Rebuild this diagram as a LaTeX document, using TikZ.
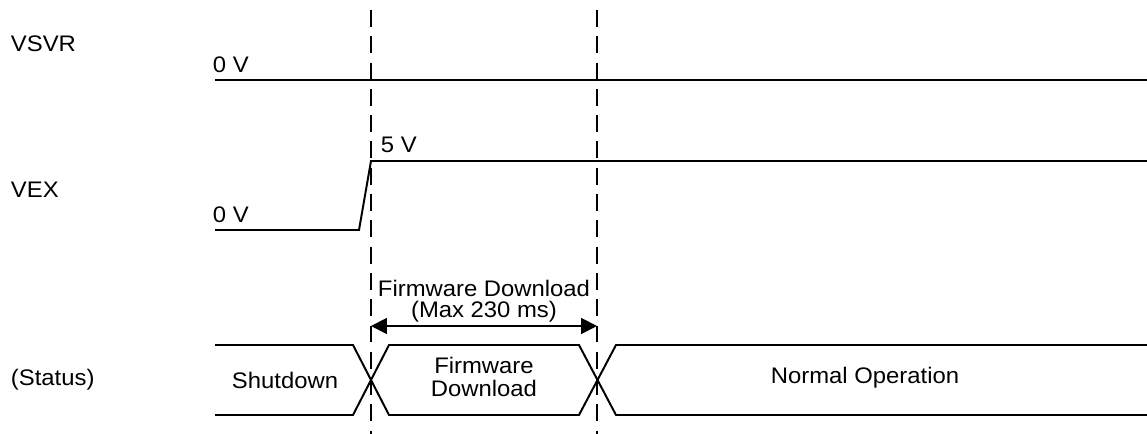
\documentclass[tikz,border=0pt]{standalone}
\usepackage{fontspec}
\setmainfont{Liberation Sans}[FakeStretch=1.06]
\usetikzlibrary{arrows.meta}
\begin{document}
\begin{tikzpicture}[x=0.025cm,y=-0.025cm,line width=1.4pt]
\tikzstyle{every node}=[inner sep=0pt,font=\fontsize{16}{16}\selectfont];
\tikzstyle{guide}=[line width=1.1pt,dash pattern=on 12pt off 6.7pt];
\tikzstyle{sig}=[anchor=west];
\useasboundingbox (0,0) rectangle (1147,434);
\foreach \n/\x in {a/371,b/597} {
	\coordinate (\n top) at (\x,10);
	\coordinate (\n bot) at (\x,434);
	\draw[guide] (\n top) -- (\n bot);
}
\node[sig] (vsvr) at (10,44) {VSVR};
\node[sig] (vsvr0) at (212,65) {0 V};
\draw (215,80) -- (1147,80);
\node[sig] (vex) at (10,190) {VEX};
\node[sig] (vex0) at (212,215) {0 V};
\node[sig] (vex5) at (380,145) {5 V};
\draw (215,230) -- (359,230) -- (371,161) -- (1147,161);
\coordinate (fwl) at (371,326);
\coordinate (fwr) at (597,326);
\draw[{Triangle[length=11.3pt,width=11.3pt]}-{Triangle[length=11.3pt,width=11.3pt]}] (fwl) -- (fwr);
\node[align=center,font=\fontsize{16}{14.9}\selectfont] (fwtime) at (484,301) {Firmware Download\\(Max 230 ms)};
\node[sig] (status) at (10,380) {(Status)};
\draw (215,345) -- (353,345) -- (389,415) -- (579,415) -- (616,345) -- (1147,345);
\draw (215,415) -- (353,415) -- (389,345) -- (579,345) -- (616,415) -- (1147,415);
\node (shut) at (285,380) {Shutdown};
\node[align=center,font=\fontsize{16}{16.3}\selectfont] (fwdl) at (484,377) {Firmware\\Download};
\node (normal) at (865,378) {Normal Operation};
\end{tikzpicture}
\end{document}
